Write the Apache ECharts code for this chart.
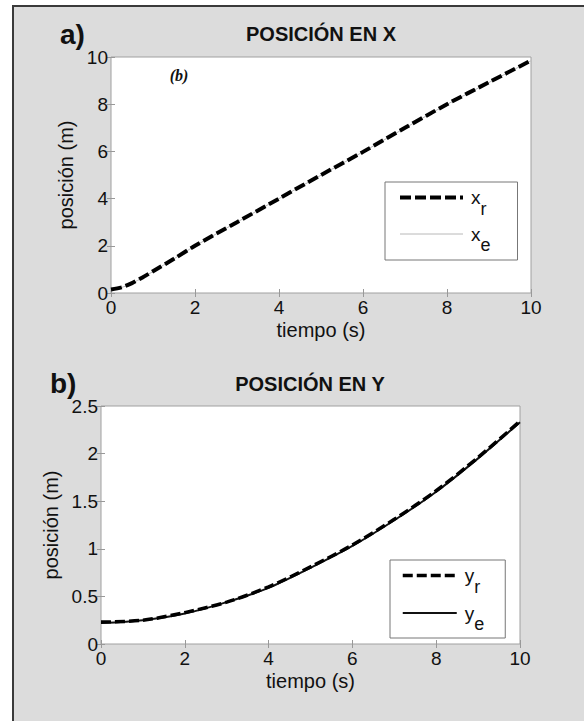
<!DOCTYPE html>
<html>
<head>
<meta charset="utf-8">
<script src="https://cdn.jsdelivr.net/npm/echarts@6/dist/echarts.min.js"></script>
<style>
  html, body { margin: 0; padding: 0; background: #fff; }
  #chart { width: 584px; height: 721px; }
</style>
</head>
<body>
<div id="chart"></div>
<script>
/*
 * Datos: posicion en X y en Y frente al tiempo
 */
var tiempoX = [0, 0.25, 0.5, 0.75, 1, 1.5, 2, 3, 4, 5, 6, 7, 8, 9, 10];
var xRef = [0.15, 0.24, 0.42, 0.66, 0.92, 1.45, 2.0, 3.0, 4.0, 5.0, 5.98, 7.0, 8.0, 8.93, 9.85];
var xEst = [0.14, 0.23, 0.41, 0.65, 0.91, 1.45, 1.99, 3.0, 4.0, 4.99, 5.98, 6.99, 7.99, 8.92, 9.84];

var tiempoY = [0, 1, 2, 3, 4, 5, 6, 7, 8, 9, 10];
var yRef = [0.23, 0.25, 0.33, 0.44, 0.6, 0.81, 1.04, 1.31, 1.61, 1.96, 2.34];
var yEst = [0.22, 0.25, 0.32, 0.44, 0.59, 0.8, 1.03, 1.3, 1.6, 1.95, 2.33];

var ticksT = [0, 2, 4, 6, 8, 10];
var ticksX = [0, 2, 4, 6, 8, 10];
var ticksY = [0, 0.5, 1, 1.5, 2, 2.5];

var FONT = "'Liberation Sans', Arial, sans-serif";

var pares = function(t, v) {
	var out = [];
	for (var i = 0; i < t.length; i++) {
		out.push([t[i], v[i]]);
	}
	return out;
};

// nombre tipo "x_r" -> x con subindice r
var legendFormatter = function(name) {
	var p = name.split('_');
	return '{m|' + p[0] + '}{s|' + p[1] + '}';
};

var legendRich = {
	m: { fontSize: 19, fontFamily: FONT, color: '#111', padding: [0, 0, 0, 3] },
	s: { fontSize: 18, fontFamily: FONT, color: '#111', padding: [22, 0, 0, 0] }
};

var xAxisBase = function(gridIndex, ticks) {
	return {
		type: 'value', gridIndex: gridIndex,
		min: ticks[0], max: ticks[ticks.length - 1], interval: ticks[1] - ticks[0],
		name: 'tiempo (s)', nameLocation: 'middle', nameGap: 27,
		nameTextStyle: { fontSize: 20, fontFamily: FONT, color: '#111' },
		axisLine: { show: false },
		axisTick: { inside: true, length: 4, lineStyle: { color: '#999' } },
		axisLabel: { fontSize: 19, fontFamily: FONT, color: '#111', margin: 5 },
		splitLine: { show: false }
	};
};

var yAxisBase = function(gridIndex, ticks, gap) {
	return {
		type: 'value', gridIndex: gridIndex,
		min: ticks[0], max: ticks[ticks.length - 1], interval: ticks[1] - ticks[0],
		name: 'posición (m)', nameLocation: 'middle', nameGap: gap,
		nameTextStyle: { fontSize: 20, fontFamily: FONT, color: '#111' },
		axisLine: { show: false },
		axisTick: { inside: true, length: 4, lineStyle: { color: '#999' } },
		axisLabel: { fontSize: 19, fontFamily: FONT, color: '#111', margin: 3 },
		splitLine: { show: false }
	};
};

// ejes espejo (arriba / derecha) solo con marcas, estilo caja
var mirrorAxis = function(gridIndex, ticks, pos) {
	return {
		type: 'value', gridIndex: gridIndex, position: pos,
		min: ticks[0], max: ticks[ticks.length - 1], interval: ticks[1] - ticks[0],
		axisLine: { show: false },
		axisTick: { inside: true, length: 4, lineStyle: { color: '#999' } },
		axisLabel: { show: false },
		splitLine: { show: false }
	};
};

var hidden = { opacity: 0 };

var chart = echarts.init(document.getElementById('chart'), null, { renderer: 'svg' });

var option = {
	animation: false,
	backgroundColor: '#fff',
	graphic: [
		{
			type: 'rect', z: -10, silent: true,
			shape: { x: 13, y: 6, width: 620, height: 760 },
			style: { fill: '#dcdcdc', stroke: '#3a3a3a', lineWidth: 2 }
		},
		{
			type: 'text', left: 60, top: 20,
			style: { text: 'a)', font: 'bold 28px ' + FONT, fill: '#111' }
		},
		{
			type: 'text', x: 321, y: 34,
			style: { text: 'POSICIÓN EN X', font: 'bold 20px ' + FONT, fill: '#111', align: 'center', verticalAlign: 'middle' }
		},
		{
			type: 'text', x: 179, y: 75,
			style: { text: '(b)', font: 'italic bold 16px "Liberation Serif", serif', fill: '#111', align: 'center', verticalAlign: 'middle' }
		},
		{
			type: 'text', left: 50, top: 369,
			style: { text: 'b)', font: 'bold 28px ' + FONT, fill: '#111' }
		},
		{
			type: 'text', x: 310, y: 384,
			style: { text: 'POSICIÓN EN Y', font: 'bold 20px ' + FONT, fill: '#111', align: 'center', verticalAlign: 'middle' }
		}
	],
	grid: [
		{ left: 111, top: 57, width: 420, height: 236, show: true, backgroundColor: '#fff', borderColor: '#a0a0a0', borderWidth: 1 },
		{ left: 101, top: 406, width: 419, height: 238, show: true, backgroundColor: '#fff', borderColor: '#a0a0a0', borderWidth: 1 }
	],
	xAxis: [
		xAxisBase(0, ticksT),
		xAxisBase(1, ticksT),
		mirrorAxis(0, ticksT, 'top'),
		mirrorAxis(1, ticksT, 'top')
	],
	yAxis: [
		yAxisBase(0, ticksX, 28),
		yAxisBase(1, ticksY, 37),
		mirrorAxis(0, ticksX, 'right'),
		mirrorAxis(1, ticksY, 'right')
	],
	legend: [
		{
			orient: 'vertical', left: 385, top: 182,
			padding: [6, 27, 6, 13], itemGap: 7,
			itemWidth: 63, itemHeight: 14,
			backgroundColor: '#fff', borderColor: '#777', borderWidth: 1,
			formatter: legendFormatter,
			textStyle: { rich: legendRich },
			data: [
				{ name: 'x_r', itemStyle: hidden, lineStyle: { width: 4, type: [11, 4], color: '#000' } },
				{ name: 'x_e', itemStyle: hidden, lineStyle: { width: 1, type: 'solid', color: '#b8b8b8' } }
			]
		},
		{
			orient: 'vertical', left: 390, top: 560,
			padding: [6, 21, 5, 11], itemGap: 8,
			itemWidth: 54, itemHeight: 14,
			backgroundColor: '#fff', borderColor: '#777', borderWidth: 1,
			formatter: legendFormatter,
			textStyle: { rich: legendRich },
			data: [
				{ name: 'y_r', itemStyle: hidden, lineStyle: { width: 3.5, type: [10, 4], color: '#000' } },
				{ name: 'y_e', itemStyle: hidden, lineStyle: { width: 2, type: 'solid', color: '#111' } }
			]
		}
	],
	series: [
		{
			name: 'x_e', type: 'line', xAxisIndex: 0, yAxisIndex: 0,
			data: pares(tiempoX, xEst), symbol: 'none', smooth: 0.3,
			lineStyle: { width: 1, color: '#b8b8b8' }
		},
		{
			name: 'x_r', type: 'line', xAxisIndex: 0, yAxisIndex: 0,
			data: pares(tiempoX, xRef), symbol: 'none', smooth: 0.3,
			lineStyle: { width: 4, type: [11, 4], color: '#000' }
		},
		{
			name: 'y_e', type: 'line', xAxisIndex: 1, yAxisIndex: 1,
			data: pares(tiempoY, yEst), symbol: 'none', smooth: 0.3,
			lineStyle: { width: 2, color: '#111' }
		},
		{
			name: 'y_r', type: 'line', xAxisIndex: 1, yAxisIndex: 1,
			data: pares(tiempoY, yRef), symbol: 'none', smooth: 0.3,
			lineStyle: { width: 3.5, type: [10, 4], color: '#000' }
		}
	]
};

chart.setOption(option);
</script>
</body>
</html>
